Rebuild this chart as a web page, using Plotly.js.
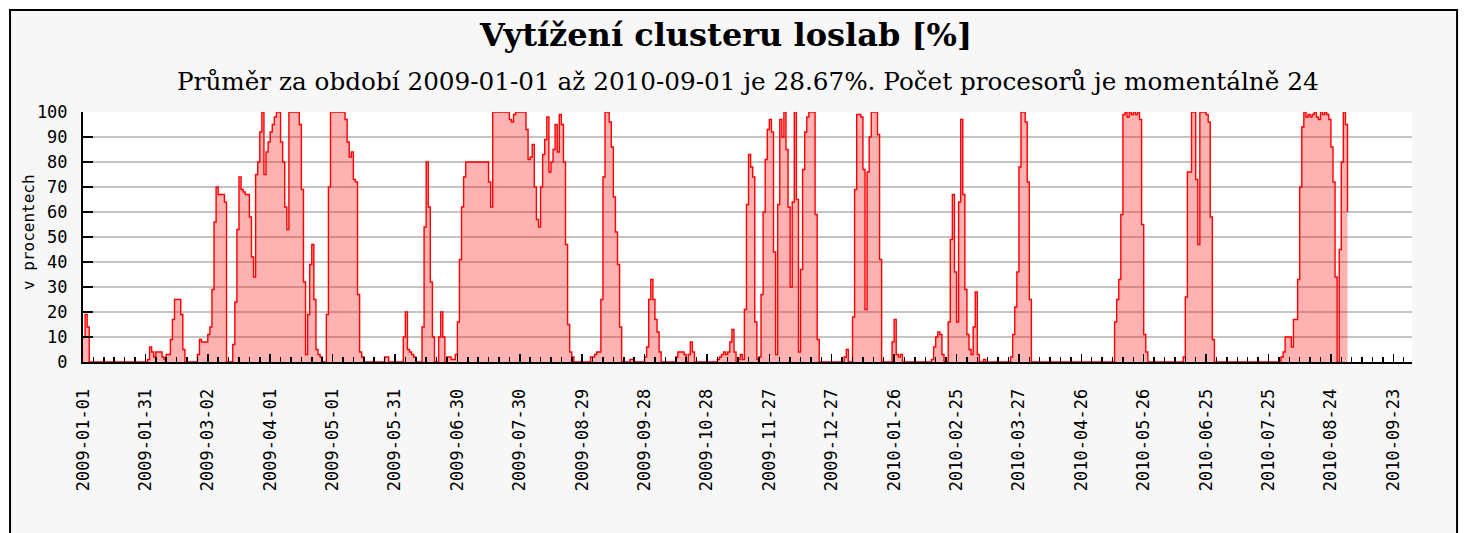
<!DOCTYPE html>
<html>
<head>
<meta charset="utf-8">
<script src="https://cdn.plot.ly/plotly-3.0.1.min.js"></script>
<style>
  html, body { margin: 0; padding: 0; background: #ffffff; }
  #chart { width: 1468px; height: 533px; }
</style>
</head>
<body>
<div id="chart"></div>
<script>
// Daily cluster load [%], 2009-01-01 .. 2009-12-31
var load2009 = [
  10,19,14,0,0,0,0,0,0,0,
  0,0,0,0,0,0,0,0,0,0,
  0,0,0,0,0,0,0,0,0,0,
  0,1,6,4,2,4,4,4,2,1,
  3,3,9,17,25,25,25,19,5,0,
  0,0,0,0,0,3,9,8,8,8,
  11,14,29,56,70,67,67,67,64,0,
  0,0,7,24,53,74,69,68,67,67,
  58,42,34,75,80,92,100,75,84,88,
  92,95,98,100,100,88,80,62,53,100,
  100,100,100,100,95,69,32,3,19,39,
  47,25,5,3,2,0,0,19,70,100,
  100,100,100,100,100,100,97,88,82,84,
  73,72,27,4,2,0,0,0,0,0,
  0,0,0,0,0,2,2,0,0,0,
  0,0,0,0,10,20,5,4,3,2,
  0,0,0,14,54,80,62,32,10,0,
  0,10,20,10,0,2,2,1,1,3,
  16,41,62,74,80,80,80,80,80,80,
  80,80,80,80,80,72,62,100,100,100,
  100,100,100,100,100,97,96,99,100,100,
  100,100,100,93,81,82,87,70,57,54,
  70,83,89,98,76,80,85,95,84,99,
  95,80,47,15,4,2,0,0,0,0,
  0,0,0,0,2,2,3,4,4,25,
  74,100,100,96,86,66,52,39,14,0,
  0,0,0,1,1,0,0,0,0,0,
  2,6,25,33,25,17,12,4,0,0,
  0,0,0,0,0,2,4,4,4,3,
  0,3,8,4,0,0,0,0,0,0,
  0,0,0,0,0,1,2,3,4,3,
  4,8,13,4,0,1,3,1,21,63,
  83,78,74,16,1,2,27,60,81,93,
  97,92,44,3,63,97,90,100,85,62,
  30,64,100,65,4,37,77,92,98,100,
  100,100,59,9,0,0,0,0,0,0,
  0,0,0,0,0
];
// Daily cluster load [%], 2010-01-01 .. 2010-09-01
var load2010 = [
  0,2,5,0,0,18,69,99,99,98,
  77,21,76,90,100,100,100,91,41,0,
  0,0,0,0,8,17,3,2,3,0,
  0,0,0,0,0,0,0,0,0,0,
  0,0,0,1,6,10,12,11,3,0,
  0,16,49,67,36,16,64,97,67,29,
  11,5,3,14,28,3,0,0,1,0,
  0,0,0,0,0,0,0,0,0,0,
  0,2,11,22,36,78,100,100,96,72,
  25,0,0,0,0,0,0,0,0,0,
  0,0,0,0,0,0,0,0,0,0,
  0,0,0,0,0,0,0,0,0,0,
  0,0,0,0,0,0,0,0,0,0,
  0,16,25,33,59,99,100,98,100,99,
  100,99,100,97,55,11,4,0,0,0,
  0,0,0,0,0,0,0,0,0,0,
  0,0,0,0,2,26,76,76,100,100,
  73,47,100,100,100,99,96,58,9,0,
  0,0,0,0,0,0,0,0,0,0,
  0,0,0,0,0,0,0,0,0,0,
  0,0,0,0,0,0,0,0,0,0,
  0,2,4,10,10,10,6,17,17,33,
  70,94,100,98,99,98,99,100,98,97,
  100,99,100,99,97,86,72,34,0,45,
  80,100,95,60
];

var startDate = '2009-01-01';
var axisEnd = '2010-10-02';
var titleText = 'Vytížení clusteru loslab [%]';
var subtitleText = 'Průměr za období 2009-01-01 až 2010-09-01 je 28.67%. Počet procesorů je momentálně 24';
var yTitleText = 'v procentech';

var values = load2009.concat(load2010);
var dates = [];
var t0 = Date.parse(startDate + 'T00:00:00Z');
for (var i = 0; i < values.length; i++) {
  dates.push(new Date(t0 + i * 86400000).toISOString().slice(0, 10));
}

var DAY = 86400000;
var tickFont = {family: 'DejaVu Sans Mono', size: 17, color: '#000'};

var trace = {
  x: dates,
  y: values,
  type: 'scatter',
  mode: 'lines',
  line: {color: '#ff0000', width: 1.4, shape: 'hv'},
  fill: 'tozeroy',
  fillcolor: 'rgba(255,0,0,0.3)',
  hoverinfo: 'x+y'
};

var layout = {
  width: 1468,
  height: 533,
  margin: {l: 83, r: 56, t: 112, b: 171, pad: 0},
  paper_bgcolor: '#ffffff',
  plot_bgcolor: '#ffffff',
  showlegend: false,
  title: {
    text: '<b>' + titleText + '</b>',
    font: {family: 'DejaVu Serif', size: 32, color: '#000'},
    xref: 'container', x: 0.4946, xanchor: 'center',
    yref: 'container', y: 0.934, yanchor: 'middle'
  },
  xaxis: {
    type: 'date',
    range: [startDate, axisEnd],
    tick0: startDate,
    dtick: 30 * DAY,
    tickformat: '%Y-%m-%d',
    tickangle: -90,
    ticks: 'inside',
    ticklen: 8,
    tickwidth: 1.5,
    tickcolor: '#000',
    ticklabelstandoff: 18,
    tickfont: tickFont,
    showline: true,
    linecolor: '#000',
    linewidth: 2,
    showgrid: false,
    zeroline: false,
    minor: {dtick: 5 * DAY, tick0: startDate, ticks: 'inside', ticklen: 5, tickwidth: 1.5, tickcolor: '#000', showgrid: false}
  },
  yaxis: {
    range: [0, 100],
    dtick: 10,
    ticks: 'inside',
    ticklen: 10,
    tickwidth: 1.5,
    tickcolor: '#000',
    ticklabelstandoff: 10,
    tickfont: tickFont,
    showline: true,
    linecolor: '#000',
    linewidth: 2,
    showgrid: true,
    gridcolor: '#c4c4c4',
    gridwidth: 1.5,
    zeroline: false
  },
  shapes: [
    {type: 'rect', xref: 'paper', yref: 'paper', x0: -0.0549, x1: 1.0339, y0: -1.0, y1: 1.408,
     fillcolor: '#f7f7f7', line: {color: '#000', width: 2}, layer: 'below'},
    {type: 'rect', xref: 'paper', yref: 'paper', x0: 0, x1: 1, y0: 0, y1: 1,
     fillcolor: '#ffffff', line: {width: 0}, layer: 'below'}
  ],
  annotations: [
    {text: subtitleText, xref: 'paper', yref: 'paper', x: 0.5, y: 1.122,
     xanchor: 'center', yanchor: 'middle', showarrow: false,
     font: {family: 'DejaVu Serif', size: 24.7, color: '#000'}},
    {text: yTitleText, xref: 'paper', yref: 'paper', x: -0.0414, y: 0.52,
     xanchor: 'center', yanchor: 'middle', textangle: -90, showarrow: false,
     font: {family: 'DejaVu Sans Mono', size: 16, color: '#000'}}
  ]
};

Plotly.newPlot('chart', [trace], layout, {displayModeBar: false, staticPlot: true});
</script>
</body>
</html>
